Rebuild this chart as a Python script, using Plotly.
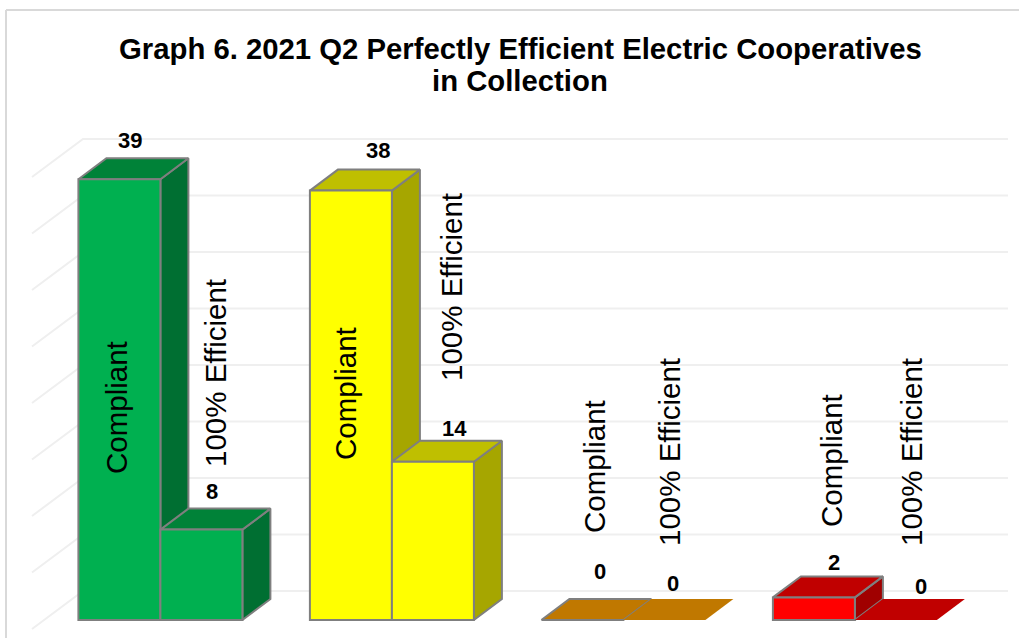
import plotly.graph_objects as go

# ---- data ----
groups = [0, 1, 2, 3]
compliant = [39, 38, 0, 2]
efficient = [8, 14, 0, 0]
series_names = ["Compliant", "100% Efficient"]
grid_values = [0, 5, 10, 15, 20, 25, 30, 35, 40]
title_lines = ["Graph 6. 2021 Q2 Perfectly Efficient Electric Cooperatives", "in Collection"]

front_colors = ["#00B050", "#FFFF00", "#C07800", "#FF0000"]
top_colors = ["#008238", "#BFBF00", "#C07800", "#C00000"]
side_colors = ["#006F32", "#A6A600", "#C07800", "#A00000"]
edge_color = "#7F7F7F"

# ---- chart geometry (pixels per data unit, and the oblique 3-D depth) ----
W, H = 1019, 638
PX_X, PX_Y = 231.5, 11.3
X0_PX, Y0_PX = 78.4, 620.0
BAR_W = 82 / PX_X
DX, DY = 28 / PX_X, 21 / PX_Y
x_range = [(0 - X0_PX) / PX_X, (W - X0_PX) / PX_X]
y_range = [(Y0_PX - H) / PX_Y, Y0_PX / PX_Y]

fig = go.Figure()
z = 0


def nz():
    global z
    z += 1
    return z


# back wall and side wall grid, drawn from the value-axis steps
wall_y0 = (Y0_PX - 591) / PX_Y
wall_x0 = (83 - X0_PX) / PX_X
wall_x1 = (1008 - X0_PX) / PX_X
side_dx, side_dy = 51 / PX_X, 38 / PX_Y
gx, gy = [], []
for v in grid_values:
    gx += [wall_x0 - side_dx, wall_x0, wall_x1, None]
    gy += [v + wall_y0 - side_dy, v + wall_y0, v + wall_y0, None]
fig.add_trace(go.Scatter(x=gx, y=gy, mode="lines", line=dict(color="#EFEFEF", width=2),
                         hoverinfo="skip", showlegend=False, zorder=nz()))


def add_box(left, value, i, outlined):
    line = dict(color=edge_color, width=2) if outlined else dict(width=0, color=top_colors[i])
    r = left + BAR_W
    if value > 0:
        fig.add_trace(go.Scatter(
            x=[r, r + DX, r + DX, r, r], y=[0, DY, value + DY, value, 0],
            mode="lines", fill="toself", fillcolor=side_colors[i], line=line,
            hoverinfo="skip", showlegend=False, zorder=nz()))
    fig.add_trace(go.Scatter(
        x=[left, left + DX, r + DX, r, left], y=[value, value + DY, value + DY, value, value],
        mode="lines", fill="toself", fillcolor=top_colors[i], line=line,
        hoverinfo="skip", showlegend=False, zorder=nz()))
    if value > 0:
        fig.add_trace(go.Bar(
            x=[left + BAR_W / 2], y=[value], width=BAR_W,
            marker=dict(color=front_colors[i], line=dict(color=edge_color, width=2)),
            hoverinfo="skip", showlegend=False, zorder=nz()))


for i, g in enumerate(groups):
    add_box(g, compliant[i], i, True)
    add_box(g + BAR_W, efficient[i], i, efficient[i] > 0)


def px_x(p):
    return (p - X0_PX) / PX_X


def px_y(p):
    return (Y0_PX - p) / PX_Y


# value labels: [series position in pixels]
value_label_px = [
    (130, 140), (212, 491), (378, 150), (454, 428),
    (600, 571), (673, 583), (834, 562), (921, 586),
]
value_texts = [compliant[0], efficient[0], compliant[1], efficient[1],
               compliant[2], efficient[2], compliant[3], efficient[3]]
for (px, py), t in zip(value_label_px, value_texts):
    fig.add_annotation(x=px_x(px), y=px_y(py), text=f"<b>{t}</b>", showarrow=False,
                       font=dict(family="Liberation Sans", size=22, color="#000000"))

name_label_px = [
    (116, 408, 0), (215, 373, 1), (345, 394, 0), (451, 287, 1),
    (594, 467, 0), (669, 452, 1), (831, 461, 0), (911, 452, 1),
]
for px, py, s in name_label_px:
    fig.add_annotation(x=px_x(px), y=px_y(py), text=series_names[s], showarrow=False,
                       textangle=-90,
                       font=dict(family="Liberation Sans", size=29.5, color="#000000"))

title_px = [(520, 48), (520, 80)]
for (px, py), t in zip(title_px, title_lines):
    fig.add_annotation(x=px_x(px), y=px_y(py), text=f"<b>{t}</b>", showarrow=False,
                       font=dict(family="Liberation Sans", size=29.3, color="#000000"))

fig.update_layout(
    width=W, height=H, autosize=False,
    margin=dict(l=0, r=0, t=0, b=0),
    paper_bgcolor="#FFFFFF", plot_bgcolor="#FFFFFF",
    showlegend=False, barmode="overlay",
    xaxis=dict(range=x_range, visible=False, fixedrange=True),
    yaxis=dict(range=y_range, visible=False, fixedrange=True),
    shapes=[
        dict(type="line", xref="paper", yref="paper", x0=6 / W, x1=6 / W, y0=0, y1=1 - 10 / H,
             line=dict(color="#D9D9D9", width=2)),
        dict(type="line", xref="paper", yref="paper", x0=6 / W, x1=1, y0=1 - 10 / H, y1=1 - 10 / H,
             line=dict(color="#D9D9D9", width=2)),
    ],
)
fig.write_html("out.html", config=dict(displayModeBar=False),
               post_script="document.body.style.margin='0';document.body.style.overflow='hidden';")
